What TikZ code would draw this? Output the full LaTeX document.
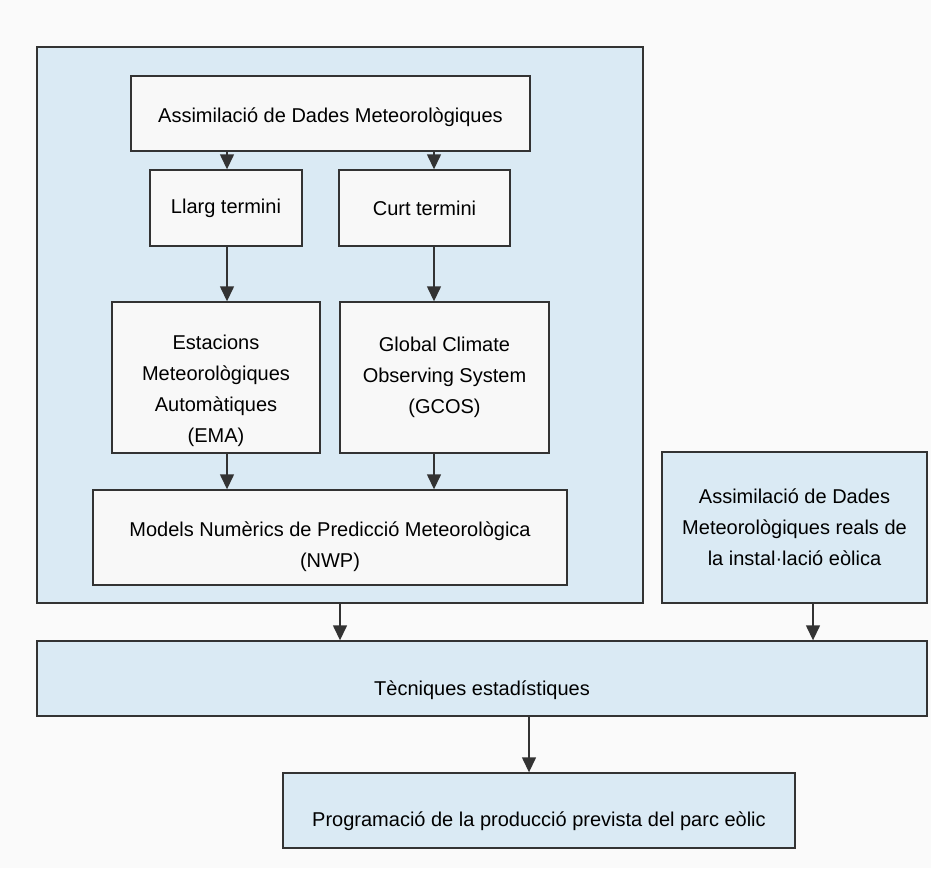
\documentclass[tikz,border=0pt]{standalone}
\usepackage{fontspec}
\setmainfont{Liberation Sans}
\usetikzlibrary{arrows.meta, positioning}

\definecolor{paleblue}{RGB}{218,234,244}
\definecolor{paper}{RGB}{250,250,250}
\definecolor{boxwhite}{RGB}{248,248,248}

% text set a little below the middle of its box
\newcommand{\lowtext}[2]{\raisebox{-#1}[\height][\depth]{\begin{tabular}{@{}c@{}}#2\end{tabular}}}

\begin{document}
\begin{tikzpicture}[
    x=1pt, y=-1pt,
    % Node styles
    groupbox/.style={
        rectangle,
        draw=black!80,
        line width=1.4pt,
        fill=paleblue,
        inner sep=0pt
    },
    whitebox/.style={
        rectangle,
        draw=black!80,
        line width=1.4pt,
        fill=boxwhite,
        font=\fontsize{20}{31}\selectfont,
        align=center,
        inner sep=0pt
    },
    bluebox/.style={
        whitebox,
        fill=paleblue
    },
    arrow/.style={
        -{Triangle[width=14pt,length=15pt]},
        line width=1.4pt,
        black!80
    }
]

\useasboundingbox[fill=paper] (0,0) rectangle (931,868);

% === Columns of the arrows ===
\coordinate (lcol) at (227,0);
\coordinate (rcol) at (434,0);
\coordinate (gcol) at (340,0);
\coordinate (acol) at (813,0);
\coordinate (pcol) at (529,0);

% === Forecast models (group) ===
\node[groupbox, minimum width=606pt, minimum height=556pt] (nwpgroup) at (340,325) {};

\node[whitebox, minimum width=399pt, minimum height=75pt] (assim) at (330.5,113.5)
    {\lowtext{3pt}{Assimilació de Dades Meteorològiques}};
\node[whitebox, minimum width=152pt, minimum height=76pt] (llarg) at (226,208)
    {Llarg termini};
\node[whitebox, minimum width=171pt, minimum height=76pt] (curt) at (424.5,208)
    {Curt termini};
\node[whitebox, minimum width=208pt, minimum height=151pt] (ema) at (216,377.5)
    {\lowtext{12pt}{Estacions\\Meteorològiques\\Automàtiques\\(EMA)}};
\node[whitebox, minimum width=209pt, minimum height=151pt] (gcos) at (444.5,377.5)
    {Global Climate\\Observing System\\(GCOS)};
\node[whitebox, minimum width=474pt, minimum height=95pt] (models) at (330,537.5)
    {\lowtext{8pt}{Models Numèrics de Predicció Meteorològica\\(NWP)}};

% === Local data (right) ===
\node[bluebox, minimum width=265pt, minimum height=151pt] (local) at (794.5,527.5)
    {Assimilació de Dades\\Meteorològiques reals de\\la instal·lació eòlica};

% === Statistics and output ===
\node[bluebox, minimum width=890pt, minimum height=75pt] (tecn) at (482,678.5)
    {\lowtext{11pt}{Tècniques estadístiques}};
\node[bluebox, minimum width=512pt, minimum height=75pt] (prog) at (539,810.5)
    {\lowtext{10pt}{Programació de la producció prevista del parc eòlic}};

% === Arrows ===
\draw[arrow] (assim.south -| lcol) -- (llarg.north -| lcol);
\draw[arrow] (assim.south -| rcol) -- (curt.north -| rcol);
\draw[arrow] (llarg.south -| lcol) -- (ema.north -| lcol);
\draw[arrow] (curt.south -| rcol) -- (gcos.north -| rcol);
\draw[arrow] (ema.south -| lcol) -- (models.north -| lcol);
\draw[arrow] (gcos.south -| rcol) -- (models.north -| rcol);
\draw[arrow] (nwpgroup.south -| gcol) -- (tecn.north -| gcol);
\draw[arrow] (local.south -| acol) -- (tecn.north -| acol);
\draw[arrow] (tecn.south -| pcol) -- (prog.north -| pcol);

\end{tikzpicture}
\end{document}
